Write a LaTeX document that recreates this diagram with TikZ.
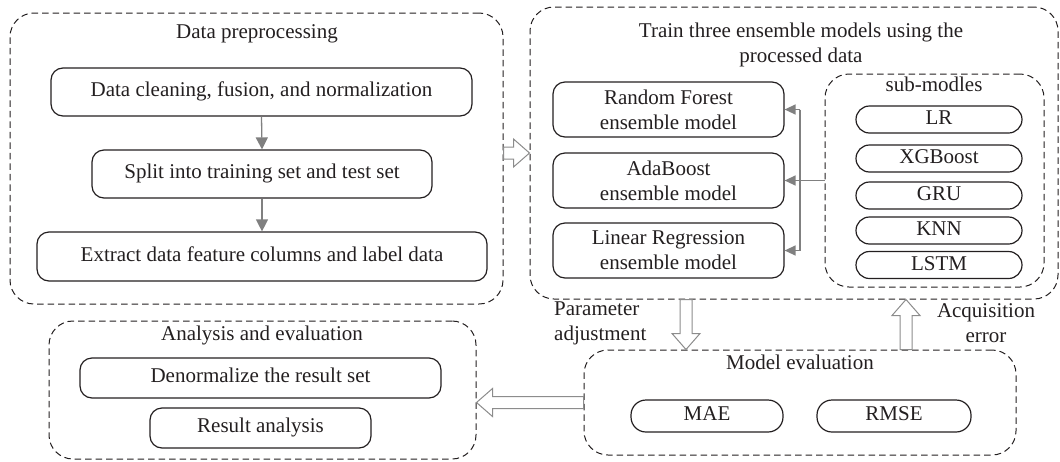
\documentclass[tikz,border=0pt]{standalone}
\usepackage{fontspec}
\setmainfont{Liberation Serif}
\usetikzlibrary{calc,arrows.meta}
\definecolor{ink}{HTML}{231F20}
\definecolor{link}{HTML}{808080}
\definecolor{blockedge}{HTML}{8C8C8C}
\newcommand\mainsize{\fontsize{21}{25}\selectfont}
% wide hollow arrow from #1 to the tip #2
\newcommand\blockarrow[2]{%
  \coordinate (ba-s) at (#1);
  \coordinate (ba-t) at (#2);
  \coordinate (ba-h) at ($(ba-t)!16pt!(ba-s)$);
  \draw[hollowarrow] ($(ba-s)!6pt!90:(ba-t)$) -- ($(ba-h)!6pt!-90:(ba-s)$)
    -- ($(ba-h)!14pt!-90:(ba-s)$) -- (ba-t) -- ($(ba-h)!14pt!90:(ba-s)$)
    -- ($(ba-h)!6pt!90:(ba-s)$) -- ($(ba-s)!6pt!-90:(ba-t)$) -- cycle;}
\begin{document}
\begin{tikzpicture}[x=1pt,y=-1pt,
  group/.style={draw=ink, line width=1pt, dash pattern=on 6.5pt off 4pt,
    rounded corners=24pt, inner sep=0pt},
  stepbox/.style={draw=ink, line width=1.2pt, rounded corners=12pt, inner sep=0pt,
    align=center, text=ink, font=\mainsize},
  pill/.style={draw=ink, line width=1.2pt, rounded corners=13.5pt, inner sep=0pt,
    minimum width=166pt, minimum height=27pt, text=ink, font=\mainsize,
    text height=14pt, text depth=4pt},
  oneline/.style={text height=14pt, text depth=4.5pt},
  heading/.style={inner sep=0pt, align=center, text=ink, font=\mainsize},
  flow/.style={draw=link, line width=1.3pt, -{Triangle[length=12pt,width=12pt]}},
  feed/.style={draw=link, line width=1.3pt, -{Triangle[length=11pt,width=10pt]}},
  bus/.style={draw=link, line width=1.3pt},
  hollowarrow/.style={draw=blockedge, line width=1pt, fill=white, line join=miter},
]
\useasboundingbox (0,0) rectangle (1060,461);

% data preprocessing
\node[group, minimum width=493pt, minimum height=291pt] (pre) at (256.5,158.5) {};
\node[heading, oneline] (pretitle) at (257,34) {Data preprocessing};
\node[stepbox, oneline, minimum width=421pt, minimum height=48pt] (clean) at (261.5,92)
  {Data cleaning, fusion, and normalization};
\node[stepbox, oneline, minimum width=340pt, minimum height=48pt] (split) at (262,174)
  {Split into training set and test set};
\node[stepbox, oneline, minimum width=450pt, minimum height=49pt] (extract) at (262,256.5)
  {Extract data feature columns and label data};
\draw[flow] (clean.south) -- (split.north);
\draw[flow] (split.south) -- (extract.north);

% ensemble training
\node[group, minimum width=528pt, minimum height=292pt] (train) at (794,153) {};
\node[heading] (traintitle) at (801,45) {Train three ensemble models using the\\processed data};
\node[stepbox, minimum width=231pt, minimum height=55pt] (rf) at (668.5,109.5)
  {Random Forest\\ensemble model};
\node[stepbox, minimum width=231pt, minimum height=55pt] (ada) at (668.5,180.5)
  {AdaBoost\\ensemble model};
\node[stepbox, minimum width=231pt, minimum height=55pt] (lrm) at (668.5,250.5)
  {Linear Regression\\ensemble model};

\node[group, minimum width=219pt, minimum height=213pt] (sub) at (934.5,180.5) {};
\node[heading, oneline] (subtitle) at (934,87) {sub-modles};
\node[pill] (plr) at (939,119.5) {LR};
\node[pill] (pxgb) at (939,158.5) {XGBoost};
\node[pill] (pgru) at (939,195.5) {GRU};
\node[pill] (pknn) at (939,230.5) {KNN};
\node[pill] (plstm) at (939,265) {LSTM};

\coordinate (busx) at (800,0);
\draw[bus] (busx |- rf.east) -- (busx |- lrm.east);
\draw[feed] (sub.west |- ada.east) -- (ada.east);
\draw[feed] (busx |- rf.east) -- (rf.east);
\draw[feed] (busx |- lrm.east) -- (lrm.east);

% analysis
\node[group, minimum width=427pt, minimum height=138pt] (ana) at (262.5,390) {};
\node[heading, oneline] (anatitle) at (262,335.5) {Analysis and evaluation};
\node[stepbox, oneline, minimum width=361pt, minimum height=40pt] (denorm) at (260.5,378)
  {Denormalize the result set};
\node[stepbox, oneline, minimum width=221pt, minimum height=40pt] (resan) at (260.5,428)
  {Result analysis};

% model evaluation
\node[group, minimum width=432pt, minimum height=105pt] (eval) at (800,402.5) {};
\node[heading, oneline] (evaltitle) at (800,365) {Model evaluation};
\node[stepbox, oneline, rounded corners=15pt, minimum width=152pt, minimum height=32pt] (mae)
  at (707,416) {MAE};
\node[stepbox, oneline, rounded corners=15pt, minimum width=154pt, minimum height=32pt] (rmse)
  at (894,416) {RMSE};

% hand-over arrows between the stages
\coordinate (padj) at (686,0);
\coordinate (aerr) at (906,0);
\blockarrow{pre.east |- train.west}{train.west}
\blockarrow{padj |- train.south}{padj |- eval.north}
\blockarrow{aerr |- eval.north}{aerr |- train.south}
\blockarrow{eval.west}{ana.east |- eval.west}

\node[heading, align=left, anchor=west] (paramlbl) at (554,323.5) {Parameter\\adjustment};
\node[heading] (acqlbl) at (986,323.5) {Acquisition\\error};
\end{tikzpicture}
\end{document}
